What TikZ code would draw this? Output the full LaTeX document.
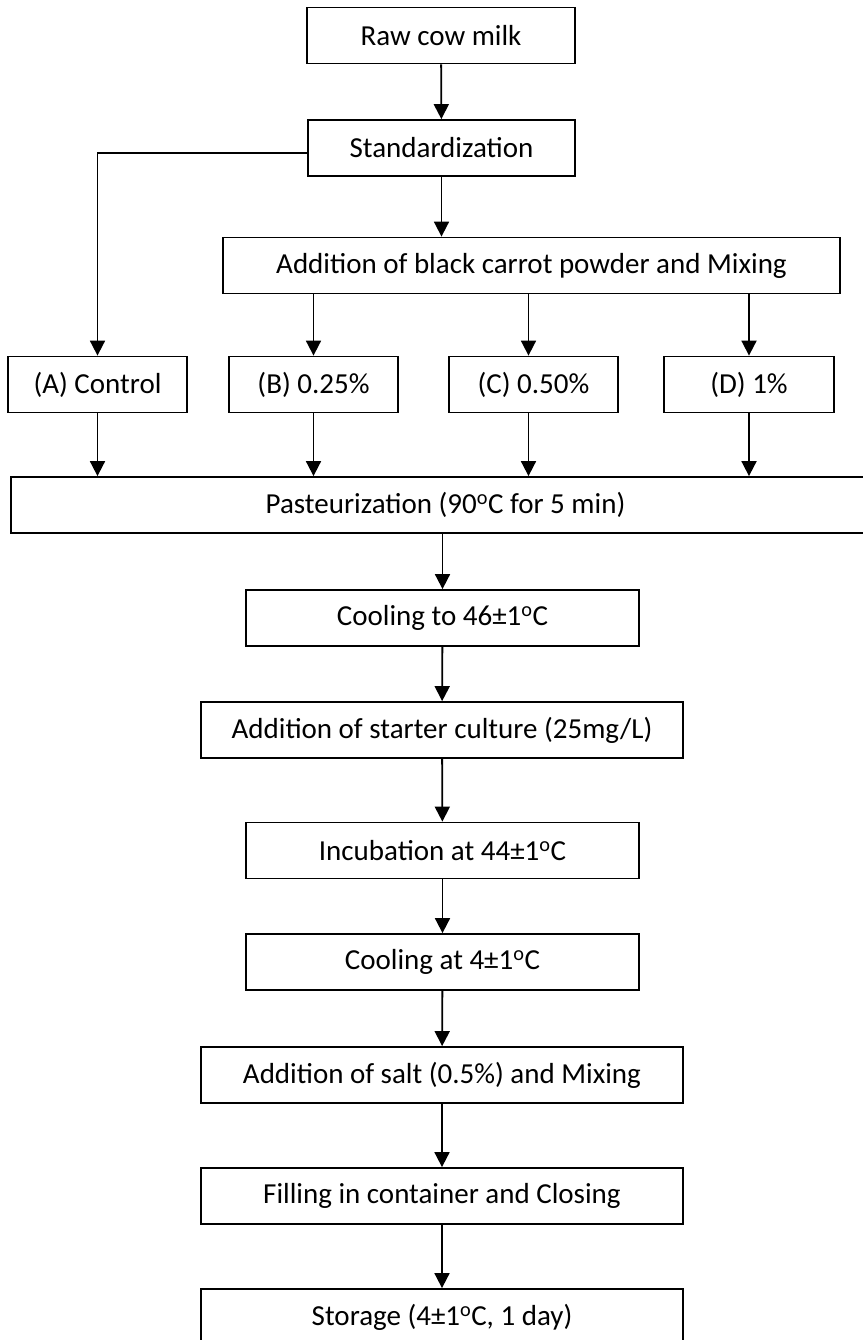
\documentclass[tikz,border=0pt]{standalone}
\usepackage{fontspec}
\setmainfont{Carlito}
\usetikzlibrary{arrows.meta, positioning, calc}

\begin{document}
\begin{tikzpicture}[x=1pt, y=-1pt,
        stage/.style={draw=black, line width=1.8pt, minimum height=56pt, inner sep=0pt, font=\fontsize{29}{34}\selectfont},
        flow/.style={-{Triangle[width=15pt, length=15pt]}, line width=1.8pt}]
        \fill[white] (0,0) rectangle (862,1340);
        \useasboundingbox (0,0) rectangle (862,1340);

        % --- MILK PREPARATION ---
        \node[stage, minimum width=268pt] (raw) at (441, 35.5) {Raw cow milk};
        \node[stage, minimum width=267pt] (stand) at (441.5, 148) {Standardization};
        \node[stage, minimum width=617pt] (carrot) at (531.5, 265.5) {Addition of black carrot powder and Mixing};

        % --- TREATMENTS ---
        \node[stage, minimum width=179pt] (ctrl) at (97.5, 384.5) {(A) Control};
        \node[stage, minimum width=169pt] (trtB) at (313.5, 384.5) {(B) 0.25\%};
        \node[stage, minimum width=169pt] (trtC) at (533.5, 384.5) {(C) 0.50\%};
        \node[stage, minimum width=170pt] (trtD) at (749, 384.5) {(D) 1\%};

        \node[stage, minimum width=869pt] (past) at (445.5, 505) {Pasteurization (90\textsuperscript{o}C for 5 min)};

        % --- PROCESSING ---
        \node[stage, minimum width=393pt] (cool1) at (442.5, 618) {Cooling to 46±1\textsuperscript{o}C};
        \node[stage, minimum width=482pt] (starter) at (442, 730) {Addition of starter culture (25mg/L)};
        \node[stage, minimum width=393pt] (incub) at (442.5, 850.5) {Incubation at 44±1\textsuperscript{o}C};
        \node[stage, minimum width=393pt] (cool2) at (442.5, 962) {Cooling at 4±1\textsuperscript{o}C};
        \node[stage, minimum width=482pt] (salt) at (442, 1075) {Addition of salt (0.5\%) and Mixing};
        \node[stage, minimum width=482pt] (fill) at (442, 1196) {Filling in container and Closing};
        \node[stage, minimum width=482pt] (store) at (442, 1317) {Storage (4±1\textsuperscript{o}C, 1 day)};

        % Arrows
        \draw[flow] (raw) -- (stand);
        \draw[flow] (stand.south) -- (stand.south |- carrot.north);
        \draw[flow] ([yshift=-5pt]stand.west) -| (ctrl.north);
        \draw[flow] (carrot.south -| trtB.north) -- (trtB);
        \draw[flow] ([xshift=-5pt]carrot.south -| trtC.north) -- ([xshift=-5pt]trtC.north);
        \draw[flow] (carrot.south -| trtD.north) -- (trtD);
        \draw[flow] (ctrl.south) -- (ctrl.south |- past.north);
        \draw[flow] (trtB.south) -- (trtB.south |- past.north);
        \draw[flow] ([xshift=-5pt]trtC.south) -- ([xshift=-5pt]trtC.south |- past.north);
        \draw[flow] (trtD.south) -- (trtD.south |- past.north);
        \draw[flow] (past.south -| cool1.north) -- (cool1);
        \draw[flow] (cool1) -- (starter);
        \draw[flow] (starter) -- (incub);
        \draw[flow] (incub) -- (cool2);
        \draw[flow] (cool2) -- (salt);
        \draw[flow] (salt) -- (fill);
        \draw[flow] (fill) -- (store);
    \end{tikzpicture}
\end{document}
